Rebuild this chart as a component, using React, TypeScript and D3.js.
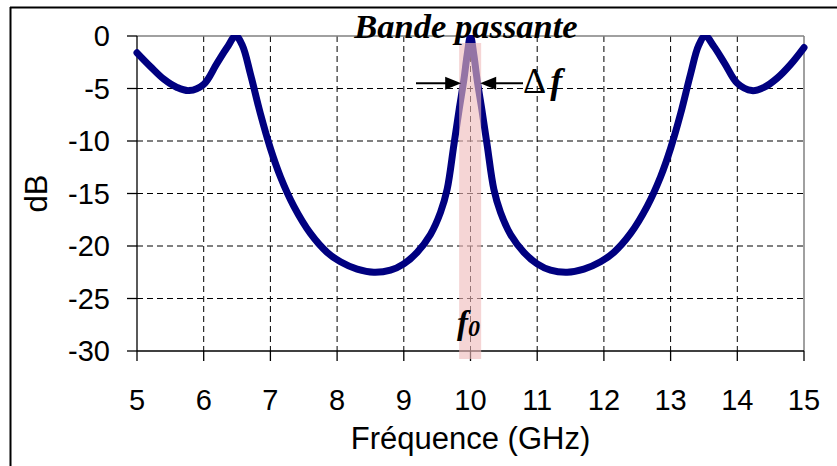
import React from "react";
import * as d3 from "d3";

const freqGHz = [
  5.0, 5.2, 5.4, 5.6, 5.78, 6.0, 6.19, 6.35, 6.48, 6.58, 6.7, 6.85, 7.0, 7.15, 7.35, 7.6, 7.85, 8.05, 8.3, 8.55, 8.8, 9.0, 9.2, 9.4, 9.55, 9.65, 9.75, 9.83, 9.9, 9.95, 10.0,
  10.05, 10.1, 10.17, 10.25, 10.35, 10.45, 10.6, 10.8, 11.0, 11.2, 11.45, 11.7, 11.95, 12.15, 12.4, 12.65, 12.85, 13.0, 13.15, 13.3, 13.42, 13.52, 13.65, 13.81, 14.0, 14.22, 14.4, 14.6, 14.8, 15.0,
];
const gainDB = [
  -1.6, -2.9, -4.1, -4.9, -5.2, -4.6, -2.7, -1.1, 0, -0.9, -3.6, -7.4, -10.7, -13.4, -16.2, -18.8, -20.6, -21.5, -22.2, -22.5, -22.3, -21.7, -20.6, -18.9, -16.8, -14.6, -10.4, -7.0, -4.2, -1.8, 0,
  -1.8, -4.2, -7.0, -10.4, -14.6, -16.8, -18.9, -20.6, -21.7, -22.3, -22.5, -22.2, -21.5, -20.6, -18.8, -16.2, -13.4, -10.7, -7.4, -3.6, -0.9, 0, -1.0, -2.6, -4.5, -5.2, -4.9, -4.0, -2.7, -1.1,
];
const xTicks = [5, 6, 7, 8, 9, 10, 11, 12, 13, 14, 15];
const yTicks = [0, -5, -10, -15, -20, -25, -30];
const bandRange = [9.83, 10.16];
const arrowLevel = -4.5;
const xTitle = "Fréquence (GHz)";
const yTitle = "dB";
const bandTitle = "Bande passante";

export default function App() {
  const left = 137, right = 804, top = 36, bottom = 351;
  const x = d3.scaleLinear().domain([5, 15]).range([left, right]);
  const y = d3.scaleLinear().domain([-30, 0]).range([bottom, top]);
  const pts: [number, number][] = freqGHz.map((f, i) => [f, gainDB[i]]);
  const line = d3
    .line<[number, number]>()
    .x((d) => x(d[0]))
    .y((d) => y(d[1]))
    .curve(d3.curveCatmullRom.alpha(0.5));
  const sans = "'Liberation Sans', Arial, sans-serif";
  const serif = "'Liberation Serif', 'Times New Roman', serif";
  const ay = y(arrowLevel);
  const bx0 = x(bandRange[0]);
  const bx1 = x(bandRange[1]);
  return (
    <svg
      width={837}
      height={466}
      style={{ position: "absolute", left: 0, top: 0, display: "block", background: "#fff" }}
    >
      <defs>
        <clipPath id="plotclip">
          <rect x={0} y={top - 1} width={837} height={bottom - top + 20} />
        </clipPath>
      </defs>
      <rect x={0} y={0} width={837} height={466} fill="#fff" />
      {/* outer frame */}
      <line x1={10.5} y1={7} x2={10.5} y2={466} stroke="#000" strokeWidth={2} />
      <line x1={10} y1={7.5} x2={837} y2={7.5} stroke="#000" strokeWidth={2} />
      {/* grid */}
      {xTicks.slice(1, -1).map((t) => (
        <line key={"gx" + t} x1={x(t)} x2={x(t)} y1={top} y2={bottom} stroke="#000" strokeWidth={1} strokeDasharray="6,4" />
      ))}
      {yTicks.slice(1, -1).map((t) => (
        <line key={"gy" + t} x1={left} x2={right} y1={y(t)} y2={y(t)} stroke="#000" strokeWidth={1} strokeDasharray="6,4" />
      ))}
      {/* plot border */}
      <line x1={left} x2={right} y1={top} y2={top} stroke="#808080" strokeWidth={1.5} />
      <line x1={right} x2={right} y1={top} y2={bottom} stroke="#808080" strokeWidth={1.5} />
      {/* axes */}
      <line x1={left} x2={left} y1={top} y2={bottom} stroke="#000" strokeWidth={1.3} />
      <line x1={left} x2={right} y1={bottom} y2={bottom} stroke="#000" strokeWidth={1.3} />
      {yTicks.map((t) => (
        <g key={"yt" + t}>
          <line x1={left - 10} x2={left} y1={y(t)} y2={y(t)} stroke="#000" strokeWidth={1.3} />
          <text x={110} y={y(t)} dy="0.36em" textAnchor="end" fontFamily={sans} fontSize={29} fill="#000">
            {t}
          </text>
        </g>
      ))}
      {xTicks.map((t) => (
        <g key={"xt" + t}>
          <line x1={x(t)} x2={x(t)} y1={bottom} y2={bottom + 10} stroke="#000" strokeWidth={1.3} />
          <text x={x(t)} y={410} textAnchor="middle" fontFamily={sans} fontSize={29} fill="#000">
            {t}
          </text>
        </g>
      ))}
      <text x={(left + right) / 2} y={449} textAnchor="middle" fontFamily={sans} fontSize={31} fill="#000">
        {xTitle}
      </text>
      <text
        transform={`translate(47,${(top + bottom) / 2}) rotate(-90)`}
        textAnchor="middle"
        fontFamily={sans}
        fontSize={31}
        fill="#000"
      >
        {yTitle}
      </text>
      {/* curve */}
      <path
        d={line(pts) || ""}
        fill="none"
        stroke="#000080"
        strokeWidth={7}
        strokeLinejoin="round"
        strokeLinecap="round"
        clipPath="url(#plotclip)"
      />
      {/* pass band */}
      <rect x={bx0} y={43} width={bx1 - bx0} height={359 - 43} fill="#efbcbc" opacity={0.62} />
      {/* arrows */}
      <line x1={416} x2={448} y1={ay} y2={ay} stroke="#000" strokeWidth={2} />
      <path d={`M${bx0 + 2},${ay} L${bx0 - 14},${ay - 6.5} L${bx0 - 14},${ay + 6.5} Z`} fill="#000" />
      <line x1={494} x2={523} y1={ay} y2={ay} stroke="#000" strokeWidth={2} />
      <path d={`M${bx1 - 1},${ay} L${bx1 + 15},${ay - 6.5} L${bx1 + 15},${ay + 6.5} Z`} fill="#000" />
      {/* annotations */}
      <text x={466} y={38} textAnchor="middle" fontFamily={serif} fontWeight="bold" fontStyle="italic" fontSize={34.5} fill="#000">
        {bandTitle}
      </text>
      <text x={523} y={93} fontFamily={serif} fontSize={36} fill="#000">
        <tspan>Δ</tspan>
        <tspan fontStyle="italic" fontWeight="bold" dx={4}>f</tspan>
      </text>
      <text x={457} y={334} fontFamily={serif} fontWeight="bold" fontStyle="italic" fontSize={33} fill="#000">
        <tspan>f</tspan>
        <tspan fontSize={24} dy={2}>0</tspan>
      </text>
    </svg>
  );
}
